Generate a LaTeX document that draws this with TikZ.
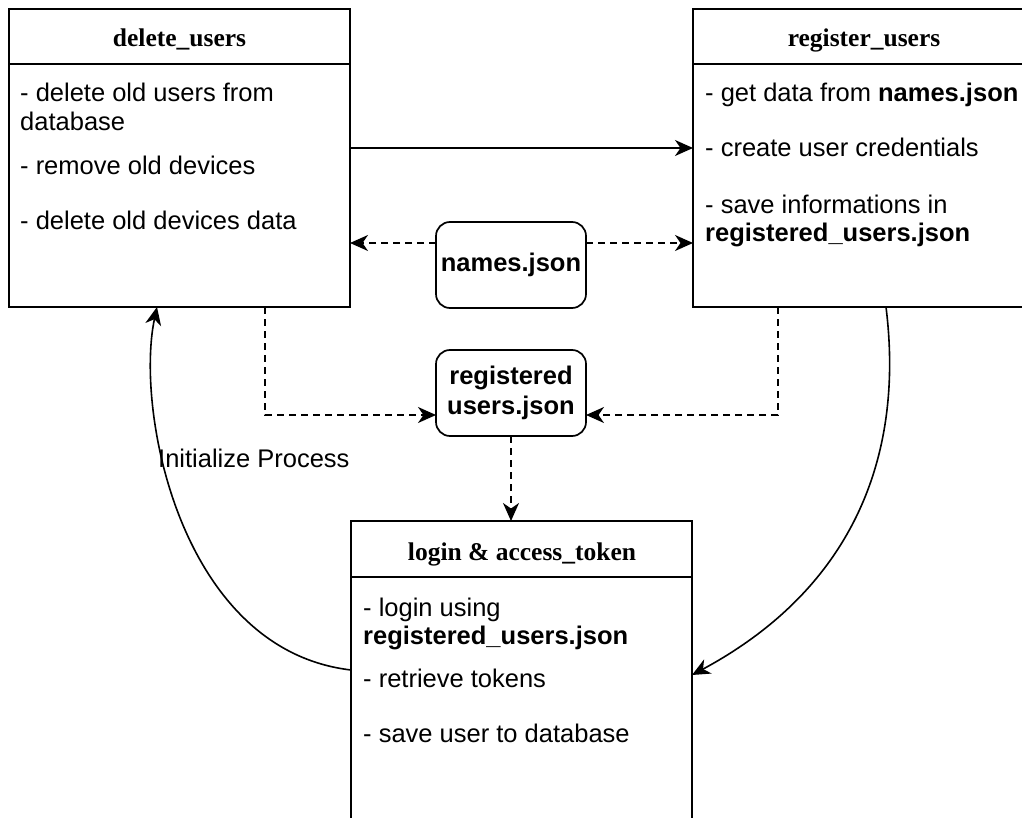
\documentclass[tikz,border=0pt]{standalone}
\usepackage{fontspec}
\setmainfont{Liberation Serif}
\setsansfont{Liberation Sans}
\usetikzlibrary{arrows.meta}

\begin{document}
\begin{tikzpicture}[x=1pt,y=-1pt,
  box/.style={draw, line width=1.7pt, fill=white, minimum width=341pt,
    minimum height=298pt, anchor=north west, inner sep=0pt, outer sep=0pt},
  store/.style={draw, line width=1.7pt, rounded corners=14pt, fill=white,
    minimum width=150pt, minimum height=86pt, anchor=north west,
    inner sep=0pt, outer sep=0pt, align=center,
    font=\sffamily\bfseries\fontsize{25.5}{30}\selectfont},
  ttl/.style={anchor=base, inner sep=0pt,
    font=\rmfamily\bfseries\fontsize{25.5}{30}\selectfont},
  txt/.style={anchor=base west, inner sep=0pt,
    font=\sffamily\fontsize{25.5}{30}\selectfont},
  tip/.style={-{Stealth[length=18pt,width=16pt,inset=5.5pt]}},
  flow/.style={tip, line width=1.6pt},
  dataflow/.style={tip, line width=1.6pt, dash pattern=on 7pt off 5pt},
]
\path[use as bounding box, clip] (0,0) rectangle (1022,818);

% process boxes
\node[box] (del) at (9,9) {};
\node[box] (reg) at (693,9) {};
\node[box] (login) at (351,521) {};
\draw[line width=1.7pt] ([yshift=-55pt]del.north west) -- ([yshift=-55pt]del.north east);
\draw[line width=1.7pt] ([yshift=-55pt]reg.north west) -- ([yshift=-55pt]reg.north east);
\draw[line width=1.7pt] ([yshift=-56pt]login.north west) -- ([yshift=-56pt]login.north east);

% titles
\node[ttl] (delT) at (179.5,47) {delete\_users};
\node[ttl] (regT) at (864,47) {register\_users};
\node[ttl] (loginT) at (522,560) {login \& access\_token};

% delete_users body
\node[txt] (d1) at (20,102) {- delete old users from};
\node[txt] (d2) at (20,131) {database};
\node[txt] (d3) at (20,175) {- remove old devices};
\node[txt] (d4) at (20,230) {- delete old devices data};

% register_users body
\node[txt] (r1) at (705,102) {- get data from \textbf{names.json}};
\node[txt] (r2) at (705,157) {- create user credentials};
\node[txt] (r3) at (705,214) {- save informations in};
\node[txt] (r4) at (705,242) {\textbf{registered\_users.json}};

% login body
\node[txt] (l1) at (363,616) {- login using};
\node[txt] (l2) at (363,644) {\textbf{registered\_users.json}};
\node[txt] (l3) at (363,687) {- retrieve tokens};
\node[txt] (l4) at (363,742) {- save user to database};

% data stores
\node[store] (names) at (436,222) {names.json};
\node[store] (regjson) at (436,350) {registered\\users.json};

% connection points
\coordinate (nl) at ([yshift=22pt]names.west);
\coordinate (nr) at ([yshift=22pt]names.east);
\coordinate (rl) at ([yshift=-22pt]regjson.west);
\coordinate (rr) at ([yshift=-22pt]regjson.east);
\coordinate (da) at ([xshift=85.5pt]del.south);
\coordinate (db) at ([xshift=-85.5pt]reg.south);
\coordinate (dc) at ([xshift=-22.5pt]del.south);
\coordinate (rc) at ([xshift=22.5pt]reg.south);
\coordinate (le) at ([yshift=-5pt]login.east);

% connectors
\draw[flow] ([yshift=-139pt]del.north east) -- ([yshift=-139pt]reg.north west);
\draw[dataflow] (nl) -- (nl -| del.east);
\draw[dataflow] (nr) -- (nr -| reg.west);
\draw[dataflow] (da) |- (rl);
\draw[dataflow] (db) |- (rr);
\draw[dataflow] (regjson.south) -- (regjson.south |- login.north);
\draw[flow] (login.west) .. controls (180,650) and (135,410) .. (dc);
\draw[flow] (rc) .. controls (905,460) and (850,590) .. (le);

\node[txt] (init) at (158,467) {Initialize Process};
\end{tikzpicture}
\end{document}
